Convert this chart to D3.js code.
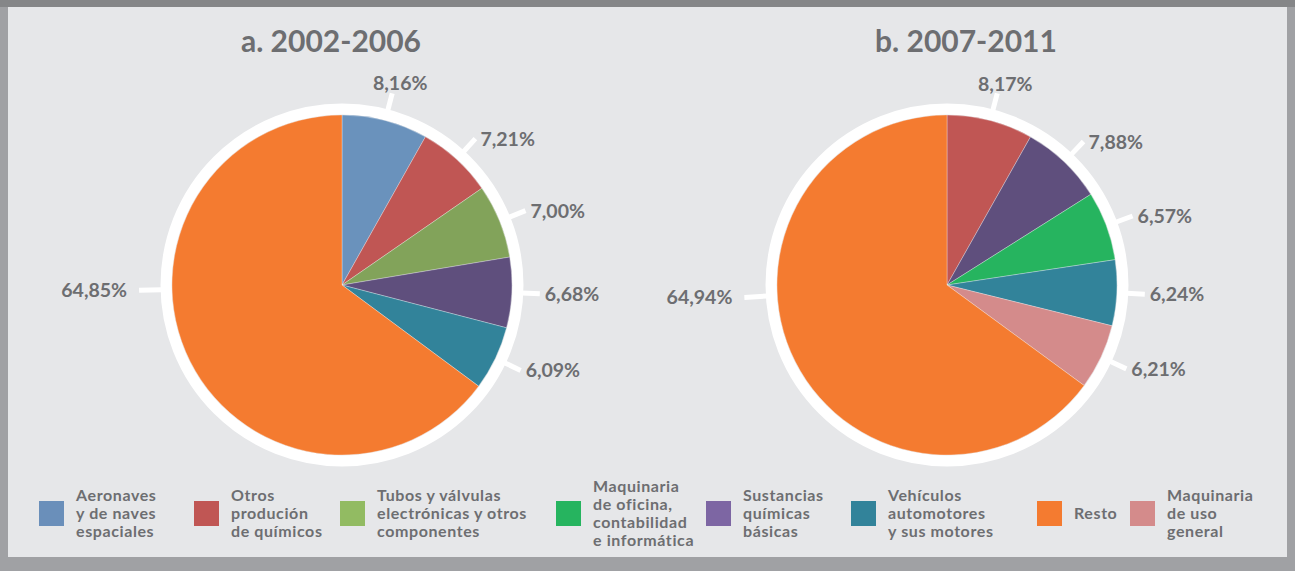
<!DOCTYPE html>
<html>
<head>
<meta charset="utf-8">
<script src="https://cdn.jsdelivr.net/npm/d3@7"></script>
<style>
  html, body { margin: 0; padding: 0; background: #a0a1a4; }
  svg { display: block; }
  text { font-family: Lato, "Noto Sans", sans-serif; font-weight: 700; fill: #6d6e71; }
</style>
</head>
<body>
<div id="chart"></div>
<script>
// legend categories (line breaks as in the original)
const categories = [
  'Aeronaves\ny de naves\nespaciales',
  'Otros\nprodución\nde químicos',
  'Tubos y válvulas\nelectrónicas y otros\ncomponentes',
  'Maquinaria\nde oficina,\ncontabilidad\ne informática',
  'Sustancias\nquímicas\nbásicas',
  'Vehículos\nautomotores\ny sus motores',
  'Resto',
  'Maquinaria\nde uso\ngeneral'
];
const sliceColors = ['#6a92bc', '#c05654', '#82a35a', '#26b45f', '#5f4f7d', '#32839a', '#f47b30', '#d48b8b'];
const legendColors = ['#6a8fba', '#c05654', '#92bb62', '#26b45f', '#7d66a3', '#32839a', '#f47b30', '#d48b8b'];

const titles = ['a. 2002-2006', 'b. 2007-2011'];
// which category each slice belongs to, clockwise from 12 o'clock
const catsA = [0, 1, 2, 4, 5, 6];
const valuesA = [8.16, 7.21, 7.00, 6.68, 6.09, 64.85];
const catsB = [1, 4, 3, 5, 7, 6];
const valuesB = [8.17, 7.88, 6.57, 6.24, 6.21, 64.94];

const W = 1295, H = 571;
const R = 170;

const svg = d3.select('#chart').append('svg')
  .attr('width', W).attr('height', H);

// frame
svg.append('rect').attr('width', W).attr('height', H).attr('fill', '#a0a1a4');
svg.append('rect').attr('width', W).attr('height', 7).attr('fill', '#858688');
svg.append('rect').attr('x', 8).attr('y', 7).attr('width', 1279).attr('height', 550).attr('fill', '#e6e7e9');

const fmt = v => d3.format('.2f')(v).replace('.', ',') + '%';

const pies = [
  { cx: 342, cy: 285, tx: 331, cats: catsA, values: valuesA, title: titles[0], restAngle: -1.5 },
  { cx: 947, cy: 285, tx: 966, cats: catsB, values: valuesB, title: titles[1], restAngle: -3.5 }
];

const pie = d3.pie().sort(null).value(d => d.value);
const arc = d3.arc().innerRadius(0).outerRadius(R);

pies.forEach(p => {
  const data = p.values.map((v, i) => ({ value: v, cat: p.cats[i] }));
  const g = svg.append('g').attr('transform', `translate(${p.cx},${p.cy})`);

  svg.append('text')
    .attr('x', p.tx).attr('y', 52)
    .attr('text-anchor', 'middle')
    .style('font-size', '30px')
    .text(p.title);

  // white ring
  g.append('circle').attr('r', R + 6).attr('fill', 'none')
    .attr('stroke', '#fff').attr('stroke-width', 11);

  g.selectAll('path.slice')
    .data(pie(data))
    .join('path')
    .attr('class', 'slice')
    .attr('d', arc)
    .attr('fill', d => sliceColors[d.data.cat])
    .attr('stroke', 'rgba(255,255,255,0.5)')
    .attr('stroke-width', 0.6);

  pie(data).forEach(d => {
    let a = (d.startAngle + d.endAngle) / 2;
    if (d.data.cat === 6) a = Math.PI * 1.5 + p.restAngle * Math.PI / 180;
    const s = Math.sin(a), c = -Math.cos(a);
    const r0 = R + 10, r1 = d.data.cat === 6 ? R + 33 : R + 28;
    g.append('line')
      .attr('x1', r0 * s).attr('y1', r0 * c)
      .attr('x2', r1 * s).attr('y2', r1 * c)
      .attr('stroke', '#fff').attr('stroke-width', 5);
    const ex = r1 * s, ey = r1 * c;
    let anchor = 'start', x = ex + 5;
    if (Math.abs(s) < 0.35) { anchor = 'middle'; x = ex + 8; }
    else if (s < 0) { anchor = 'end'; x = ex - 12; }
    let y;
    if (Math.abs(s) < 0.35) y = ey - 3;
    else if (c < -60) y = ey - 1;
    else if (c > 60) y = ey + 9;
    else y = ey + 7;
    g.append('text')
      .attr('x', x)
      .attr('y', y)
      .attr('text-anchor', anchor)
      .style('font-size', '19.5px')
      .text(fmt(d.data.value));
  });
});

// legend
const legendX = [39, 194, 340, 556, 706, 851, 1037, 1130];
const lg = svg.append('g');
categories.forEach((name, ci) => {
  const x = legendX[ci];
  lg.append('rect')
    .attr('x', x).attr('y', 501).attr('width', 25).attr('height', 25)
    .attr('fill', legendColors[ci]);
  const lines = name.split('\n');
  lines.forEach((ln, j) => {
    lg.append('text')
      .attr('x', x + 37)
      .attr('y', 513.5 + (j - (lines.length - 1) / 2) * 18 + 5.5)
      .style('font-size', '16px')
      .style('letter-spacing', '0.6px')
      .text(ln);
  });
});
</script>
</body>
</html>
